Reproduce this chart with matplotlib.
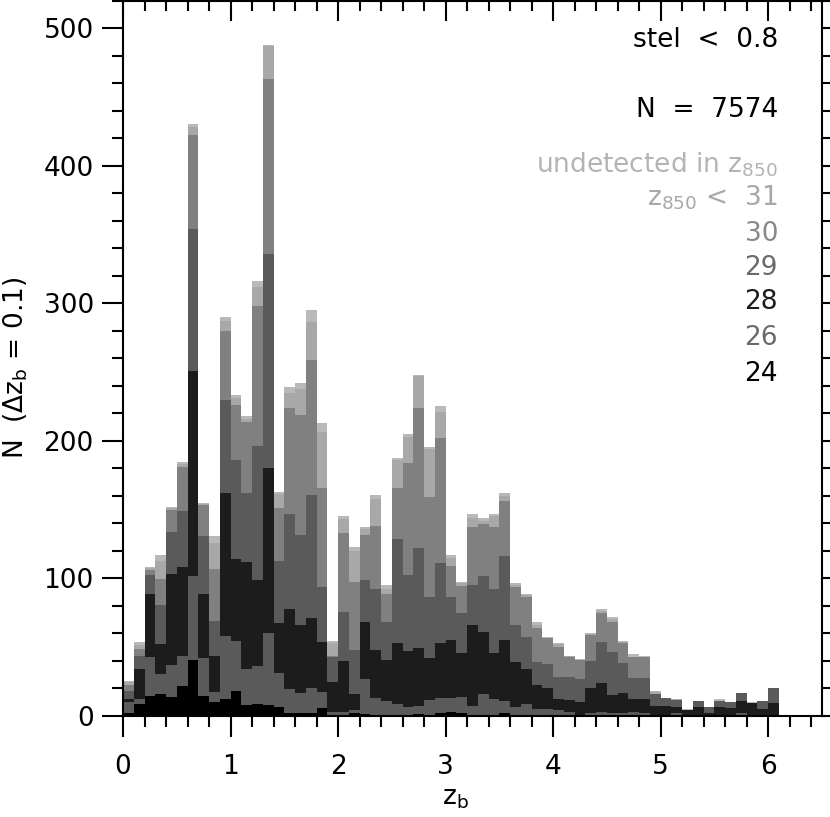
import numpy as np
import matplotlib
matplotlib.use("Agg")
import matplotlib.pyplot as plt
from matplotlib.ticker import MultipleLocator

# ---- data: cumulative counts per dz_b = 0.1 bin (z_b from 0.0 to 6.5) ----
n24 = [2, 9, 14.5, 16.2, 13.8, 21.8, 40.5, 14.8, 10.4, 12, 18, 8, 9, 8, 6.5, 2.4,
       2, 2, 6, 1, 1, 2, 1.2, 0.5, 0.5, 0.5, 1, 1.7, 0.5, 2, 3, 2, 1, 1, 1, 2,
       0.5, 0, 0, 0, 0, 0, 0, 0, 0.5, 0.5, 0, 0, 0, 0, 0, 0, 0, 0, 0, 0, 0, 0,
       0, 0, 0, 0, 1, 1, 1]
n26 = [10.4, 12.6, 42.9, 30.3, 37, 43.6, 102, 42, 17.4, 58, 54.5, 34, 36, 60.6, 31.5, 19.4,
       16.5, 20, 17.7, 3, 3.1, 4, 27.1, 12.8, 11, 9, 6.5, 7.3, 11.6, 13, 12.8, 14, 7, 16, 12, 11,
       6.5, 9, 5, 5, 4.4, 3.1, 0, 2.4, 3, 2.4, 2, 3.1, 2.4, 0, 0, 2.4, 0, 0, 0, 0, 0, 2,
       0, 0, 0, 0, 1, 1, 1]
n28 = [12.6, 34.4, 88.4, 52.6, 103.4, 108, 251, 88.4, 43.6, 162, 114, 112, 99, 180, 67.8, 77.5,
       66, 71, 54, 25, 40, 16, 68.3, 48, 41, 52.7, 47.2, 49.5, 41.9, 53, 55.2, 45.5, 66, 61.3, 45.5, 55,
       39, 34.5, 22.4, 20, 12, 11.6, 10.2, 20, 23.7, 15.3, 17, 12.1, 12.1, 7.3, 7.3, 6.8, 4.5, 6.3, 1.9, 6.3, 5.6, 11.1,
       9.2, 5, 9.2, 0, 1, 1, 1]
n29 = [18, 43.6, 102.5, 81, 134, 149, 354, 130.6, 69, 230, 186, 162, 196, 335.6, 113, 147,
       131.5, 160.6, 94, 42.6, 75.8, 48, 98.8, 92, 68.5, 129, 102.5, 121.8, 86.7, 111, 86.7, 74.6, 95.2, 102, 92, 116,
       66, 57.7, 39.5, 38, 28.6, 28.6, 27, 40, 54, 46.8, 38.3, 27.9, 27.4, 16, 13, 11.8, 4.5, 11, 6.3, 10.9, 9.9, 17,
       9.2, 11.1, 20.6, 0, 1, 1, 1]
n30 = [22.5, 48.4, 105.9, 99.3, 150, 181, 422, 153, 107, 280, 226, 214, 298, 463, 151, 224,
       218.8, 258.7, 166, 43.5, 132.7, 97.6, 131.5, 138, 89, 166, 184, 223.6, 159.4, 202, 109, 94.5, 137.6, 139.3, 137, 156,
       94, 86.7, 63.7, 56.5, 50.4, 43, 40.5, 58.6, 75, 68, 53, 42.6, 43, 16, 13, 11.8, 4.5, 11, 6.3, 10.9, 9.9, 17,
       9.2, 11.1, 20.6, 0, 1, 1, 1]
n31 = [24.5, 51.5, 107.5, 113, 151, 183, 428, 154, 126, 287, 231, 216, 312, 487, 161, 235,
       237.4, 286.6, 206.6, 53, 143, 120, 136, 158, 92, 186, 203, 247, 194, 221, 115, 97, 144, 142, 145, 160,
       95, 88, 66, 57, 52, 43.3, 41, 59.5, 76.5, 70.5, 53.5, 43, 43, 17.5, 13.3, 12, 4.5, 11, 6.3, 11, 9.9, 17,
       9.5, 11.1, 20.6, 0, 1, 1, 1]
n_all = [25.5, 53.8, 108.3, 117, 152, 184.6, 430, 155, 131, 290, 233, 218, 316, 488, 163, 239,
         241.8, 295, 212.7, 54.7, 145.3, 123, 137.6, 160.6, 95, 187.3, 205, 248, 195.7, 225, 117, 97.6, 146.6, 143.6, 147, 162,
         96.4, 89, 68, 57.7, 52.8, 43.6, 41.2, 60, 77.5, 71.7, 54.7, 44.8, 43.6, 18.2, 13.3, 12.1, 4.8, 11.1, 6.3, 12.1, 9.9, 17,
         10.4, 11.1, 20.6, 0, 1, 1, 1]

bin_width = 0.1
layer_labels = ["undetected in z$_{850}$", "z$_{850}$ <  31", "30", "29", "28", "26", "24"]
layer_values = [n_all, n31, n30, n29, n28, n26, n24]
layer_colors = ["#b9b9b9", "#a8a8a8", "#808080", "#5a5a5a", "#1c1c1c", "#5a5a5a", "#000000"]
text_colors = ["#b4b4b4", "#a8a8a8", "#888888", "#6a6a6a", "#1c1c1c", "#6a6a6a", "#000000"]

W, H = 830, 817
fig = plt.figure(figsize=(W / 100, H / 100), dpi=100)
ax = fig.add_axes([123 / W, 101 / H, 699 / W, 715.5 / H])

edges = np.round(np.arange(len(n_all) + 1) * bin_width, 2)
for vals, col in zip(layer_values, layer_colors):
    ax.stairs(vals, edges, fill=True, color=col, baseline=0, linewidth=0)

ax.set_xlim(0, 6.5)
ax.set_ylim(0, 520)

fs = 19
ax.xaxis.set_major_locator(MultipleLocator(1))
ax.xaxis.set_minor_locator(MultipleLocator(0.2))
ax.yaxis.set_major_locator(MultipleLocator(100))
ax.yaxis.set_minor_locator(MultipleLocator(20))
ax.tick_params(axis="both", which="major", length=15, width=1.5, direction="out",
               labelsize=fs, pad=6)
ax.tick_params(axis="both", which="minor", length=8, width=1.5, direction="out")
ax.tick_params(axis="y", right=True, which="both")
ax.tick_params(axis="x", pad=12)

top = ax.secondary_xaxis("top")
top.xaxis.set_major_locator(MultipleLocator(1))
top.xaxis.set_minor_locator(MultipleLocator(0.2))
top.tick_params(which="major", direction="in", length=15, width=1.5, labeltop=False)
top.tick_params(which="minor", direction="in", length=8, width=1.5)
top.spines["top"].set_linewidth(1.5)

for s in ax.spines.values():
    s.set_linewidth(1.5)

fig.text(455 / W, 1 - 798 / H, "z$_\\mathrm{b}$", fontsize=fs, ha="center", va="center")
fig.text(16 / W, 1 - 368 / H, "N  ($\\Delta$z$_\\mathrm{b}$ = 0.1)", fontsize=fs,
         ha="center", va="center", rotation=90)

def ftext(x, y, s, color="black"):
    fig.text(x / W, 1 - y / H, s, ha="right", va="center", fontsize=fs, color=color)

ftext(778, 40, "stel  <  0.8")
ftext(778, 110, "N  =  7574")
ys = [165, 198, 234, 268, 302, 338, 374]
for y, lab, col in zip(ys, layer_labels, text_colors):
    ftext(778, y, lab, col)

fig.savefig("out.png", dpi=100)
